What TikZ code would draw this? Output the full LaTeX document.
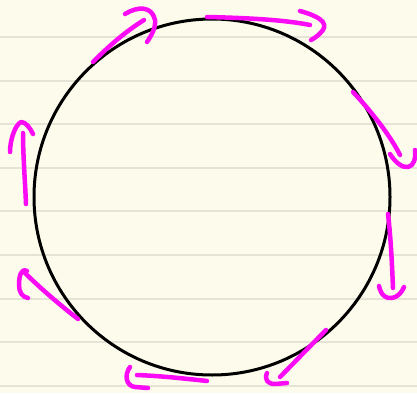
\documentclass[tikz,border=0pt]{standalone}
\usepackage{tikz}

\definecolor{paper}{RGB}{253,251,236}
\definecolor{rule}{RGB}{229,227,214}
\definecolor{pen}{RGB}{250,10,245}

\begin{document}
\begin{tikzpicture}[x=1pt,y=-1pt,
  stroke/.style={pen,line width=4.5pt,line cap=round,line join=round}]
  % paper
  \useasboundingbox (0,0) rectangle (417,393);
  \fill[paper] (0,0) rectangle (417,393);
  \foreach \k in {0,...,8} {
    \draw[rule,line width=2pt] (0,37+43.6*\k) -- (417,37+43.6*\k);
  }
  % the circle
  \draw[black,line width=3pt] (212,197) circle [radius=178];
  % arrows going round it (clockwise)
  \draw[stroke] (93,62) .. controls (110,45) and (125,32) .. (144,20);
  \draw[stroke] (125,14) .. controls (138,6) and (152,6) .. (155,20)
                .. controls (156,28) and (151,36) .. (147,42);
  \draw[stroke] (207,17) .. controls (250,18) and (285,20) .. (310,25);
  \draw[stroke] (300,11) .. controls (318,16) and (328,22) .. (323,30)
                .. controls (319,35) and (315,38) .. (311,40);
  \draw[stroke] (353,92) .. controls (370,110) and (390,135) .. (400,155);
  \draw[stroke] (390,154) .. controls (395,162) and (402,168) .. (408,167)
                .. controls (414,166) and (416,158) .. (415,150);
  \draw[stroke] (388,214) .. controls (391,240) and (392,265) .. (393,288);
  \draw[stroke] (379,286) .. controls (381,296) and (387,299) .. (392,298)
                .. controls (398,297) and (402,292) .. (404,287);
  \draw[stroke] (326,330) -- (280,377);
  \draw[stroke] (267,373) .. controls (264,380) and (268,384) .. (275,384) -- (287,383);
  \draw[stroke] (207,381) .. controls (180,378) and (160,376) .. (137,375);
  \draw[stroke] (130,367) .. controls (124,375) and (126,386) .. (135,387) -- (148,388);
  \draw[stroke] (78,319) .. controls (60,305) and (40,288) .. (24,272);
  \draw[stroke] (27,271) .. controls (21,268) and (19,276) .. (19,285)
                .. controls (19,292) and (22,297) .. (28,298);
  \draw[stroke] (26,204) .. controls (25,180) and (23,155) .. (23,133);
  \draw[stroke] (10,152) .. controls (10,140) and (15,125) .. (21,122)
                .. controls (26,122) and (30,128) .. (33,134);
\end{tikzpicture}
\end{document}
